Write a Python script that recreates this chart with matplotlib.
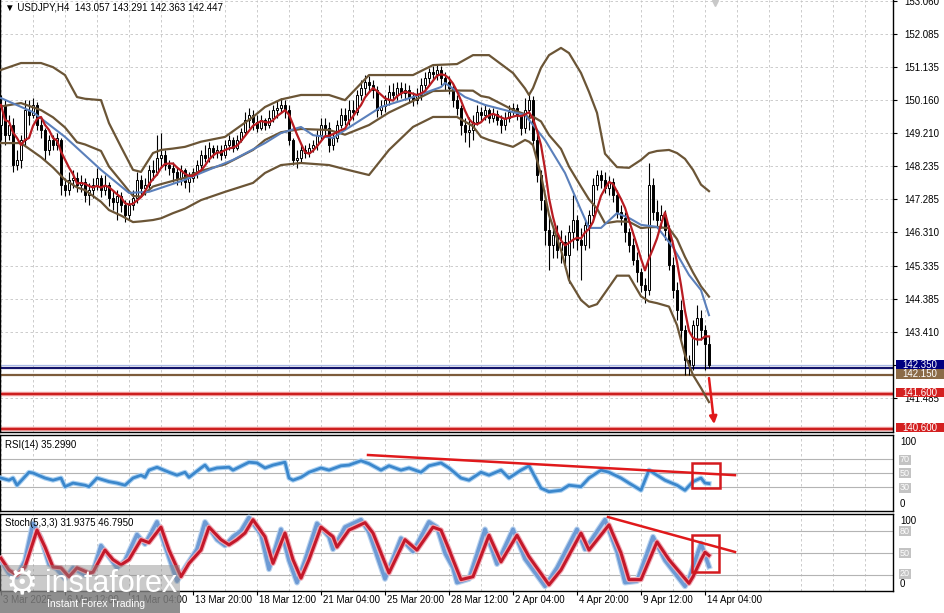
import numpy as np
import pandas as pd
import matplotlib
matplotlib.use("Agg")
import matplotlib.pyplot as plt
from matplotlib.patches import Rectangle

plt.rcParams['font.family'] = ['Liberation Sans', 'DejaVu Sans']

# ---------------- data ----------------
symbol_header = "USDJPY,H4  143.057 143.291 142.363 142.447"
rsi_header = "RSI(14) 35.2990"
stoch_header = "Stoch(5,3,3) 31.9375 46.7950"

opens = [149.44,150.02,149.14,149.44,148.27,148.42,149.00,149.87,149.73,150.02,
         149.44,149.29,148.71,149.00,148.85,149.00,147.69,147.54,147.84,147.90,
         147.69,147.78,147.40,147.54,147.69,147.90,147.54,147.69,147.31,147.19,
         147.37,147.11,146.82,147.11,147.31,147.84,147.60,147.69,148.13,148.07,
         148.48,148.56,148.27,148.19,148.07,147.90,148.13,147.78,147.90,148.07,
         148.27,148.56,148.48,148.77,148.65,148.71,148.56,148.85,149.00,148.77,
         149.00,149.23,149.58,149.73,149.52,149.35,149.58,149.44,149.64,149.87,
         149.93,150.02,149.87,149.00,148.42,148.48,148.71,148.62,148.77,148.85,
         149.14,149.44,149.35,148.85,149.06,149.44,149.73,149.58,149.87,149.81,
         150.31,150.51,150.69,150.60,150.45,149.87,149.99,150.16,150.40,150.31,
         150.51,150.37,150.45,150.25,150.16,150.31,150.60,150.81,150.98,150.92,
         151.04,150.81,150.69,150.51,150.16,149.93,149.44,149.23,149.29,149.52,
         149.81,149.73,149.87,149.64,149.76,149.58,149.44,149.64,149.81,149.93,
         149.73,149.35,149.87,150.16,149.00,147.98,147.25,146.38,145.94,146.23,
         145.80,146.03,145.65,146.32,146.67,146.09,145.94,146.53,146.82,147.69,
         147.98,147.84,147.60,147.78,147.40,146.90,146.73,146.32,145.94,145.51,
         145.16,144.78,144.63,147.69,146.90,146.67,146.82,146.38,145.36,144.63,
         144.05,143.47,142.60,142.45,143.61,143.82,143.47,143.057]
highs = [150.31,150.16,149.73,149.64,148.71,149.14,150.16,150.16,150.22,150.10,
         149.64,149.35,149.14,149.14,149.20,149.06,147.90,148.07,148.13,148.07,
         147.98,147.90,147.75,147.90,148.19,147.98,147.98,147.78,147.54,147.54,
         147.48,147.25,147.25,147.54,148.07,147.98,147.90,148.27,148.42,149.14,
         149.20,148.71,148.42,148.36,148.19,148.27,148.19,148.07,148.19,148.42,
         148.71,148.85,148.94,148.85,148.85,148.85,149.00,149.14,149.09,149.14,
         149.35,149.81,149.93,149.87,149.73,149.73,149.64,149.87,150.02,150.16,
         150.22,150.16,150.02,149.06,148.71,148.85,148.85,148.91,149.00,149.29,
         149.64,149.64,149.52,149.20,149.58,149.93,149.93,150.16,150.16,150.45,
         150.75,150.89,150.86,150.75,150.57,150.16,150.31,150.60,150.66,150.69,
         150.69,150.66,150.60,150.40,150.51,150.81,150.98,151.10,151.16,151.21,
         151.16,150.98,150.86,150.63,150.31,150.02,149.64,149.67,149.73,150.02,
         149.96,150.05,149.93,149.93,149.87,149.73,149.81,150.02,150.08,150.05,
         149.81,150.22,150.34,150.28,149.29,148.13,147.40,146.82,146.44,146.53,
         146.38,146.23,146.53,147.40,146.82,146.44,146.67,146.96,147.90,148.13,
         148.13,148.07,147.95,147.90,147.54,147.11,146.90,146.44,146.15,145.74,
         145.27,144.98,148.33,147.90,147.25,147.11,146.96,146.53,145.59,144.86,
         144.34,143.61,142.74,143.76,144.20,144.05,143.61,143.291]
lows = [149.00,148.85,149.00,148.07,148.13,148.19,148.85,149.44,149.64,149.29,
        149.06,148.42,148.56,148.71,148.71,147.40,147.37,147.40,147.60,147.48,
        147.48,147.19,147.11,147.31,147.54,147.34,147.40,147.08,146.96,146.67,
        146.90,146.61,146.67,146.96,147.16,147.40,147.40,147.54,147.84,147.98,
        148.19,148.13,147.98,147.78,147.69,147.69,147.60,147.48,147.78,147.90,
        148.13,148.36,148.36,148.48,148.48,148.42,148.48,148.71,148.65,148.71,
        148.94,149.14,149.35,149.29,149.23,149.29,149.29,149.35,149.52,149.64,
        149.81,149.64,148.85,148.27,148.19,148.36,148.48,148.50,148.65,148.71,
        149.00,149.14,148.65,148.71,148.94,149.35,149.44,149.44,149.58,149.73,
        150.16,150.31,150.40,150.22,149.67,149.73,149.81,150.02,150.16,150.16,
        150.22,150.16,150.08,149.99,150.05,150.16,150.45,150.60,150.75,150.75,
        150.60,150.45,150.34,149.96,149.73,149.14,148.94,148.79,149.00,149.44,
        149.52,149.58,149.49,149.52,149.44,149.20,149.29,149.52,149.73,149.58,
        149.14,149.20,149.29,148.85,147.78,146.96,145.94,145.21,145.56,145.56,
        145.42,145.36,144.83,145.86,145.80,144.92,145.80,145.86,146.67,147.54,
        147.60,147.46,147.40,147.19,146.73,146.53,146.03,145.74,145.36,144.86,
        144.57,144.25,144.49,146.67,146.44,146.44,146.09,145.21,144.40,143.76,
        143.18,142.16,142.16,142.30,143.03,143.18,142.30,142.363]
closes = [150.02,149.14,149.44,148.27,148.42,149.00,149.87,149.73,150.02,149.44,
          149.29,148.71,149.00,148.85,149.06,147.69,147.54,147.84,147.90,147.69,
          147.78,147.40,147.54,147.69,147.90,147.54,147.69,147.31,147.19,147.37,
          147.11,146.82,147.11,147.31,147.84,147.60,147.69,148.13,148.07,148.48,
          148.56,148.27,148.19,148.07,147.90,148.13,147.78,147.90,148.07,148.27,
          148.56,148.48,148.77,148.65,148.71,148.56,148.85,149.00,148.77,149.00,
          149.23,149.58,149.73,149.52,149.35,149.58,149.44,149.64,149.87,149.93,
          150.02,149.87,149.00,148.42,148.48,148.71,148.62,148.77,148.85,149.14,
          149.44,149.35,148.85,149.06,149.44,149.73,149.58,149.87,149.81,150.31,
          150.51,150.69,150.60,150.45,149.87,149.99,150.16,150.40,150.31,150.51,
          150.37,150.45,150.25,150.16,150.31,150.60,150.81,150.98,150.92,151.04,
          150.81,150.69,150.51,150.16,149.93,149.44,149.23,149.29,149.52,149.81,
          149.73,149.87,149.64,149.76,149.58,149.44,149.64,149.81,149.93,149.73,
          149.35,149.87,150.16,149.00,147.98,147.25,146.38,145.94,146.23,145.80,
          146.03,145.65,146.32,146.67,146.09,145.94,146.53,146.82,147.69,147.98,
          147.84,147.60,147.78,147.40,146.90,146.73,146.32,145.94,145.51,145.16,
          144.78,144.63,147.69,146.90,146.67,146.82,146.38,145.36,144.63,144.05,
          143.47,142.60,142.45,143.61,143.82,143.47,143.06,142.447]

# Bollinger band edges (bar index, price)
bb_bar = [0,5,10,13,16,19,21,25,27,30, 33,35,38,40,43,46,50,56,63,66,
          70,75,82,86,92,97,103,108,114,118, 120,122,128,131,132,133,135,137,140,142,
          145,147,149,151,154,157,160,162,164,167, 169,171,173,175,177]
bb_upper = [151.04,151.24,151.24,151.12,150.89,150.25,150.20,150.16,149.49,148.80,
            148.13,148.07,148.62,148.71,148.75,148.80,148.95,149.09,149.67,149.96,
            150.18,150.31,150.31,150.16,150.89,150.89,150.89,151.18,151.21,151.47,
            151.47,151.47,150.95,150.50,150.31,150.51,151.10,151.47,151.68,151.53,
            150.95,150.40,149.79,148.60,148.21,148.19,148.42,148.62,148.68,148.71,
            148.62,148.45,148.13,147.70,147.51]
bb_lower = [148.91,148.91,148.50,148.20,147.84,147.62,147.54,147.20,146.96,146.80,
            146.61,146.63,146.67,146.72,146.87,147.00,147.25,147.49,147.75,148.04,
            148.27,148.33,148.27,148.15,147.98,148.71,149.38,149.67,149.67,149.40,
            149.09,149.00,148.80,149.00,148.95,148.85,147.98,146.82,145.80,144.92,
            144.34,144.14,144.22,144.55,145.05,145.05,144.45,144.30,144.25,144.15,
            143.61,142.74,142.16,141.78,141.37]

# slower moving average (blue)
blue_bar = [0,8,16,25,32,37,46,50,58,66,70,75,78,83,86,95,103,110,111,116,
            121,128,131,136,141,145,147,150,154,157,160,164,168,172,175,177]
blue_val = [150.22,149.81,149.09,148.13,147.46,147.49,147.84,148.04,148.42,148.91,
            149.20,149.38,149.14,149.06,149.29,149.96,150.25,150.54,150.66,150.25,
            150.02,149.81,149.73,149.00,148.04,146.96,146.44,146.44,146.87,146.73,
            146.53,146.47,145.88,145.07,144.63,143.90]
fast_ma_period = 5

# RSI(14)
rsi_bar = [0,2,3,4,7,8,11,13,15,16,18,21,22,24,27,29,31,33,35,36,
           37,39,42,44,46,47,50,51,52,54,57,58,62,64,66,68,71,72,73,75,
           77,80,82,85,87,90,92,95,97,100,102,105,107,110,112,115,117,120,122,125,
           127,130,132,135,137,140,142,145,147,150,152,155,157,160,162,164,166,169,171,173,
           175,176,177]
rsi_val = [43,40,43,33,51,50,43,40,43,31,36,33,31,43,38,36,33,43,47,44,
           54,58,51,47,51,44,57,61,54,57,58,54,65,64,57,61,65,43,40,44,
           51,57,54,60,61,67,63,54,60,54,57,51,60,64,57,43,40,51,47,54,
           43,54,60,29,24,26,33,31,43,54,51,43,36,26,54,47,40,33,26,38,
           43,36,35.3]

# Stochastic(5,3,3): %K (blue) and %D (red)
k_bar = [0,2,4,6,8,10,12,14,16,18,21,23,25,27,29,31,34,36,39,41,
         44,46,49,51,54,56,58,60,62,65,67,70,72,74,76,79,82,83,86,90,
         92,96,100,103,107,109,111,113,114,117,121,124,128,131,136,139,144,146,151,154,
         156,159,163,166,171,172,175,177]
k_val = [40,22,18,40,90,70,35,28,15,30,20,25,60,45,30,40,75,62,92,60,
         12,30,55,92,68,60,72,80,98,75,28,82,40,10,40,90,72,55,85,95,
         78,15,70,52,92,85,50,30,10,15,82,35,82,42,5,30,82,55,95,52,
         10,12,72,40,5,15,63,31.94]
d_bar = [0,2,4,6,9,11,13,15,17,19,22,23,26,28,30,32,35,37,40,42,
         45,47,50,52,55,57,59,61,63,66,68,71,73,75,77,80,83,84,87,91,
         93,97,101,104,108,110,112,113,115,118,122,125,129,132,137,140,145,147,152,155,
         157,160,164,167,172,173,175,176,177]
d_val = [43,27,20,31,81,58,31,30,18,30,23,24,54,41,34,41,68,64,85,54,
         18,36,54,85,68,61,68,77,95,72,36,77,41,16,41,85,72,58,81,91,
         77,23,68,54,85,81,55,41,14,18,74,38,74,45,7,27,77,54,88,50,
         14,14,65,41,9,18,41,51,46.8]

# horizontal levels
bid_price = 142.447
level_prices = [142.350, 142.150, 141.600, 140.600]
level_colors = ['#14146a', '#7d5c3b', '#cc1f1f', '#cc1f1f']
level_box_colors = ['#000080', '#8b6b47', '#d42020', '#d42020']
level_box_shift_px = [-3.5, -1.0, -1.5, -1.0]

price_ticks = [153.060, 152.085, 151.135, 150.160, 149.210, 148.235, 147.285,
               146.310, 145.335, 144.385, 143.410, 142.435, 141.485]
rsi_levels = [70, 50, 30]
stoch_levels = [80, 50, 20]
date_bars = [0, 16, 32, 48, 64, 80, 96, 112, 128, 144, 160, 176]
date_labels = ["3 Mar 2025", "6 Mar 12:00", "11 Mar 04:00", "13 Mar 20:00",
               "18 Mar 12:00", "21 Mar 04:00", "25 Mar 20:00", "28 Mar 12:00",
               "2 Apr 04:00", "4 Apr 20:00", "9 Apr 12:00", "14 Apr 04:00"]

# hand-drawn annotations (bar, value)
rsi_trend = ([91.75, 183.5], [75, 47])
rsi_box = (172.75, 29, 7.0, 35)
st_trend = ([151.75, 183.5], [98.6, 51.4])
st_box = (172.75, 24.3, 6.75, 50)
arrow_from = (177.0, 142.07)
arrow_to = (178.3, 140.73)

# ---------------- figure ----------------
W, H = 944, 613
fig = plt.figure(figsize=(W / 100, H / 100), dpi=100)
fig.patch.set_facecolor('white')


def add_axes_px(x0, y0, x1, y1):
    return fig.add_axes([x0 / W, 1 - y1 / H, (x1 - x0) / W, (y1 - y0) / H])


ax = add_axes_px(0, 0, 893, 432)
ax_rsi = add_axes_px(0, 435, 893, 511)
ax_st = add_axes_px(0, 514, 893, 591)

XMIN, XMAX = -0.25, 223.0
grid_kw = dict(color='#c4c4c4', lw=0.6, ls=(0, (3, 3)), zorder=1)

for a in (ax, ax_rsi, ax_st):
    a.set_xlim(XMIN, XMAX)
    a.set_facecolor('white')
    for s in a.spines.values():
        s.set_color('black')
        s.set_linewidth(1.0)
    for b in range(0, 224, 8):
        a.axvline(b, **grid_kw)
    a.tick_params(axis='x', bottom=False, labelbottom=False)

ax.spines['top'].set_visible(False)

# ----- main price panel -----
ax.set_ylim(140.499, 153.075)
for p in price_ticks:
    ax.axhline(p, **grid_kw)
ax.yaxis.tick_right()
ax.set_yticks(price_ticks)
ax.set_yticklabels([f"{p:.3f}" for p in price_ticks])
ax.tick_params(axis='y', length=3, width=0.8, pad=5, labelsize=7, colors='black')

o = np.array(opens)
h = np.array(highs)
l = np.array(lows)
c = np.array(closes)
x = np.arange(len(c))
up = c >= o
ax.vlines(x, l, h, color='black', lw=0.8, zorder=3)
ax.bar(x[up], c[up] - o[up], bottom=o[up], width=0.62, color='white',
       edgecolor='black', lw=0.7, zorder=4)
ax.bar(x[~up], o[~up] - c[~up], bottom=c[~up], width=0.62, color='black',
       edgecolor='black', lw=0.7, zorder=4)

upper = np.array(bb_upper)
lower = np.array(bb_lower)
middle = (upper + lower) / 2
brown = '#6b5536'
for band in (upper, middle, lower):
    ax.plot(bb_bar, band, color=brown, lw=1.6, zorder=5, solid_joinstyle='round')

ax.plot(blue_bar, blue_val, color='#5b80bb', lw=1.5, zorder=5)
fast = pd.Series(closes).rolling(fast_ma_period, min_periods=1).mean()
ax.plot(x, fast, color='#b81c22', lw=1.6, zorder=6)

# levels
ax.axhline(bid_price, color='#a9b9e6', lw=0.9, zorder=2)
for lp, lc in zip(level_prices, level_colors):
    if lc == '#cc1f1f':
        ax.axhline(lp, color='#f2a0a0', lw=3.2, zorder=2)
    ax.axhline(lp, color=lc, lw=1.6, zorder=2)

ax.annotate('', xy=arrow_to, xytext=arrow_from,
            arrowprops=dict(arrowstyle='-|>', color='#e0191b', lw=1.8,
                            mutation_scale=11, shrinkA=0, shrinkB=0), zorder=8)
ax.plot([178.5], [153.0], marker='v', ms=5, color='#c8c8c8', clip_on=False, zorder=8)

# price boxes on the right scale (figure-level so they cover the tick labels)
fig.canvas.draw()
for lp, bc, sh in zip(level_prices, level_box_colors, level_box_shift_px):
    ydisp = ax.transData.transform((0, lp))[1]      # pixels from bottom
    ypx = H - ydisp + sh                            # pixels from top
    fig.patches.append(Rectangle((896 / W, 1 - (ypx + 4.8) / H), 48 / W, 9.6 / H,
                                 transform=fig.transFigure, fc=bc, ec='none', zorder=2))
    fig.text(902 / W, 1 - ypx / H, f"{lp:.3f}", fontsize=7, color='white',
             va='center', ha='left', zorder=6)

fig.text(5 / W, 1 - 8 / H, "▼ " + symbol_header, fontsize=7, va='center', ha='left')

# ----- RSI panel -----
ax_rsi.set_ylim(-2.8, 102.8)
ax_rsi.set_yticks([])
for lv in rsi_levels:
    ax_rsi.axhline(lv, color='#b4b4b4', lw=0.8, zorder=1)
ax_rsi.plot(rsi_bar, rsi_val, color='#a9d0f2', lw=3.6, zorder=3, solid_joinstyle='round')
ax_rsi.plot(rsi_bar, rsi_val, color='#3b87cc', lw=2.0, zorder=4, solid_joinstyle='round')
ax_rsi.plot(rsi_trend[0], rsi_trend[1], color='#e0191b', lw=1.8, zorder=6, clip_on=False)
ax_rsi.add_patch(Rectangle(rsi_box[:2], rsi_box[2], rsi_box[3], fill=False,
                           ec='#d41a1f', lw=1.8, zorder=6))
fig.text(5 / W, 1 - 445 / H, rsi_header, fontsize=7, va='center', ha='left')

# ----- Stochastic panel -----
ax_st.set_ylim(-1.35, 102.7)
ax_st.set_yticks([])
for lv in stoch_levels:
    ax_st.axhline(lv, color='#b4b4b4', lw=0.8, zorder=1)
ax_st.plot(k_bar, k_val, color='#b9d3ef', lw=4.2, zorder=3, solid_joinstyle='round')
ax_st.plot(k_bar, k_val, color='#6d9ad4', lw=2.6, zorder=3, solid_joinstyle='round')
ax_st.plot(d_bar, d_val, color='#f0a9b4', lw=3.8, zorder=4, solid_joinstyle='round')
ax_st.plot(d_bar, d_val, color='#c4182a', lw=2.2, zorder=5, solid_joinstyle='round')
ax_st.plot(st_trend[0], st_trend[1], color='#e0191b', lw=1.8, zorder=6, clip_on=False)
ax_st.add_patch(Rectangle(st_box[:2], st_box[2], st_box[3], fill=False,
                          ec='#d41a1f', lw=1.8, zorder=6))
fig.text(5 / W, 1 - 523 / H, stoch_header, fontsize=7, va='center', ha='left')

# date axis
ax_st.set_xticks(date_bars)
ax_st.tick_params(axis='x', bottom=True, labelbottom=False, length=3, width=0.8,
                  direction='out')
xtr = ax_st.get_xaxis_transform()
for b, lab in zip(date_bars, date_labels):
    ax_st.text(b + 0.5, -0.12, lab, transform=xtr, ha='left', va='center',
               fontsize=7, clip_on=False)


def right_label(ypx, txt, boxed):
    if boxed:
        fig.text(900 / W, 1 - ypx / H, txt, fontsize=6.5, color='white', va='center',
                 ha='left', bbox=dict(boxstyle='square,pad=0.1', fc='#c3c3c3', ec='none'))
    else:
        fig.text(900 / W, 1 - ypx / H, txt, fontsize=7, color='black', va='center', ha='left')


right_label(442, "100", False)
right_label(460, "70", True)
right_label(473, "50", True)
right_label(488, "30", True)
right_label(504, "0", False)
right_label(521, "100", False)
right_label(531, "80", True)
right_label(553, "50", True)
right_label(574, "20", True)
right_label(584, "0", False)

# watermark logo
fig.patches.append(Rectangle((0, 0), 180 / W, 48 / H, transform=fig.transFigure,
                             fc='#8a8a8a', alpha=0.45, ec='none', zorder=1))
fig.patches.append(Rectangle((0, 0), 180 / W, 22 / H, transform=fig.transFigure,
                             fc='#7a7a7a', alpha=0.75, ec='none', zorder=1))
fig.text(6 / W, 1 - 583 / H, "⚙", fontsize=26, color='white', va='center', ha='left',
         family='DejaVu Sans', zorder=5)
fig.text(45 / W, 1 - 584 / H, "instaforex", fontsize=22, color='white', va='center',
         ha='left', zorder=5)
fig.text(47 / W, 1 - 604 / H, "Instant Forex Trading", fontsize=7.5, color='white',
         va='center', ha='left', zorder=5)

fig.savefig('out.png', dpi=100, facecolor='white')
